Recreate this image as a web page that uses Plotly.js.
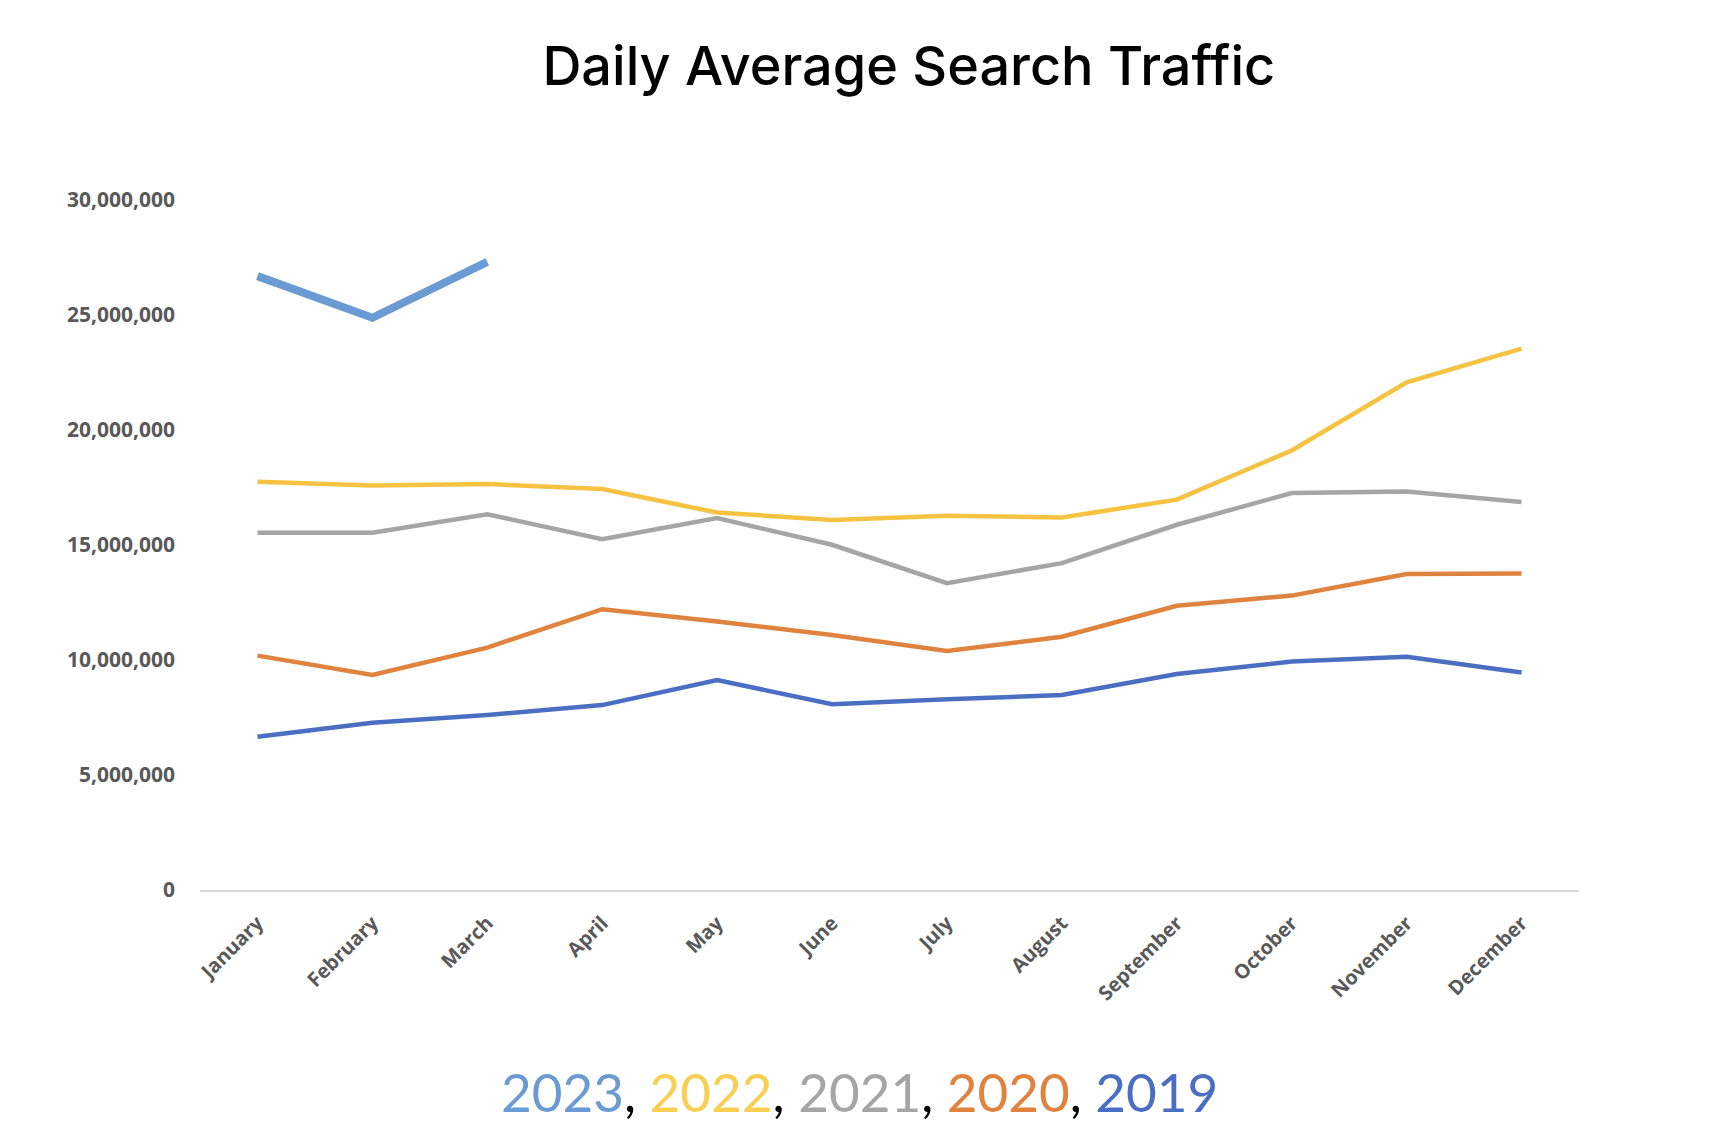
<!DOCTYPE html>
<html>
<head>
<meta charset="utf-8">
<script src="https://cdn.plot.ly/plotly-3.0.1.min.js"></script>
<style>html,body{margin:0;padding:0;background:#fff;}#chart{width:1718px;height:1148px;}</style>
</head>
<body>
<div id="chart"></div>
<script>
const months = ["January","February","March","April","May","June","July","August","September","October","November","December"];
const y2023 = [26690000, 24880000, 27310000];
const y2022 = [17750000, 17590000, 17650000, 17430000, 16410000, 16090000, 16270000, 16200000, 16970000, 19110000, 22070000, 23540000];
const y2021 = [15530000, 15530000, 16340000, 15250000, 16170000, 15010000, 13340000, 14210000, 15880000, 17260000, 17330000, 16870000];
const y2020 = [10190000, 9350000, 10540000, 12210000, 11670000, 11090000, 10390000, 11010000, 12360000, 12800000, 13740000, 13760000];
const y2019 = [6660000, 7270000, 7610000, 8040000, 9130000, 8080000, 8290000, 8480000, 9390000, 9930000, 10140000, 9460000];
const seriesNames = ["2023","2022","2021","2020","2019"];
const colors = {"2023":"#6A9BD3","2022":"#F5C242","2021":"#A5A5A5","2020":"#E0833F","2019":"#4A6FC2"};
const legendColors = {"2023":"#6A9BD3","2022":"#F8CF52","2021":"#A5A5A5","2020":"#E0833F","2019":"#4A6FC2"};

function tr(name, vals, w){
  return {x: months.slice(0, vals.length), y: vals, type:"scatter", mode:"lines", name:name,
    line:{color:colors[name], width:w}, hoverinfo:"x+y+name"};
}
const data = [tr("2019",y2019,4.5), tr("2020",y2020,4.5), tr("2021",y2021,4.5), tr("2022",y2022,4.5), tr("2023",y2023,8)];

const legendText = seriesNames.map(n => '<span style="color:'+legendColors[n]+'">'+n+'</span>').join('<span style="color:#000">, </span>');

const layout = {
  width:1718, height:1148,
  paper_bgcolor:"#fff", plot_bgcolor:"#fff",
  showlegend:false,
  margin:{l:200, r:139, t:200, b:258},
  title:{text:"Daily Average Search Traffic", x:0.529, xanchor:"center", y:0.942, yanchor:"middle",
    font:{family:"Inter, Lato, sans-serif", size:54, color:"#000", weight:500}},
  xaxis:{type:"category", range:[-0.5,11.5], showgrid:false, zeroline:false,
    showline:true, linecolor:"#D9D9D9", linewidth:1.5, ticks:"", tickangle:-45,
    ticklabelstandoff:12,
    tickfont:{family:"'Open Sans', sans-serif", size:20, color:"#595959", weight:"bold"}},
  yaxis:{range:[0,30000000], tickvals:[0,5000000,10000000,15000000,20000000,25000000,30000000],
    ticktext:["0","5,000,000","10,000,000","15,000,000","20,000,000","25,000,000","30,000,000"],
    showgrid:false, zeroline:false, showline:false, ticks:"", ticklabelstandoff:24,
    tickfont:{family:"'Open Sans', sans-serif", size:21, color:"#595959", weight:"bold"}},
  annotations:[{text:legendText, xref:"paper", yref:"paper", x:0.478, y:-0.292, xanchor:"center", yanchor:"middle",
    showarrow:false, font:{family:"Lato, 'Noto Sans', sans-serif", size:53}}]
};
Plotly.newPlot("chart", data, layout, {displayModeBar:false, staticPlot:true});
</script>
</body>
</html>
